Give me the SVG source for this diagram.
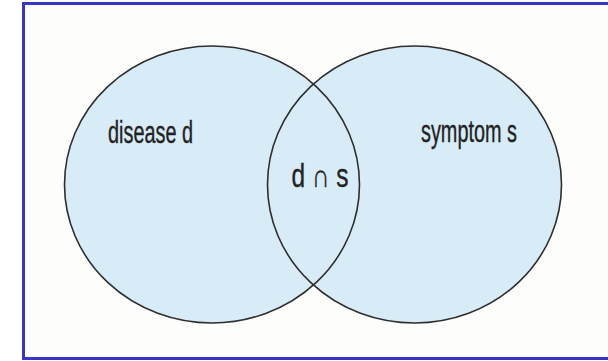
<svg xmlns="http://www.w3.org/2000/svg" width="608" height="361" viewBox="0 0 608 361">
<style>
.fill{fill:#d8ecf8;stroke:none}
.edge{fill:none;stroke:#2e2e2e;stroke-width:1.6}
.lbl{font-family:"Liberation Sans",Arial,sans-serif;fill:#222;stroke:#222;stroke-width:0.35}
</style>
<rect x="0" y="0" width="608" height="361" fill="#ffffff"/>
<rect x="23.5" y="3.5" width="640" height="355" fill="#fdfdfc" stroke="#3535c8" stroke-width="3"/>
<g id="disease">
<ellipse class="fill" cx="212" cy="184.5" rx="147.5" ry="138.5"/>
</g>
<g id="symptom">
<ellipse class="fill" cx="414.5" cy="184.5" rx="147" ry="138.5"/>
</g>
<g id="outlines">
<ellipse class="edge" cx="212" cy="184.5" rx="147.5" ry="138.5"/>
<ellipse class="edge" cx="414.5" cy="184.5" rx="147" ry="138.5"/>
</g>
<g id="labels">
<text class="lbl" x="108" y="143" font-size="31" textLength="85" lengthAdjust="spacingAndGlyphs">disease d</text>
<text class="lbl" x="421" y="142" font-size="31" textLength="96" lengthAdjust="spacingAndGlyphs">symptom s</text>
<text class="lbl" x="291.5" y="187" font-size="33" textLength="57" lengthAdjust="spacingAndGlyphs">d ∩ s</text>
</g>
</svg>
